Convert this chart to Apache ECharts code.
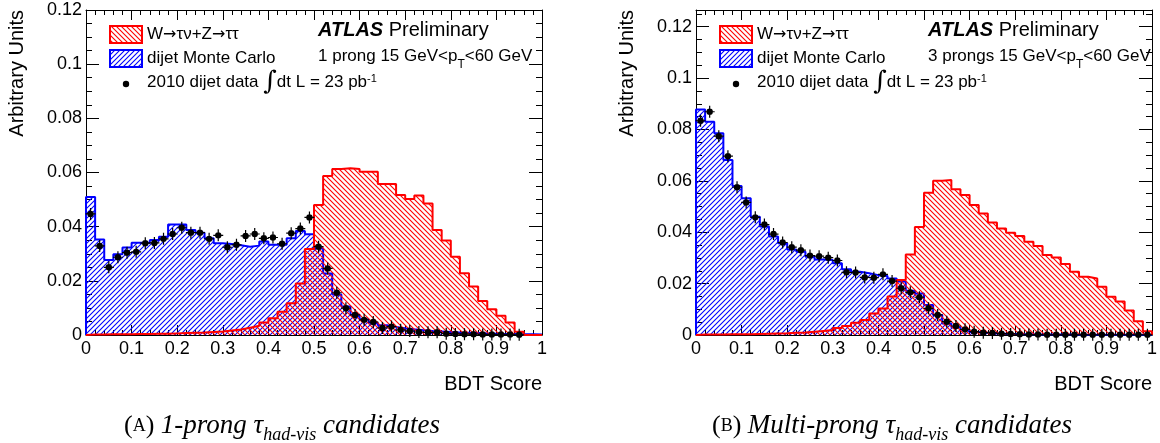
<!DOCTYPE html>
<html>
<head>
<meta charset="utf-8">
<script src="https://cdn.jsdelivr.net/npm/echarts@6/dist/echarts.min.js"></script>
<style>
  html, body { margin: 0; padding: 0; background: #fff; }
  #main { width: 1160px; height: 443px; }
</style>
</head>
<body>
<div id="main"></div>
<script>
// 50 bins of width 0.02 on the BDT score axis
const binWidth = 0.02
const xTicks = [0, 0.1, 0.2, 0.3, 0.4, 0.5, 0.6, 0.7, 0.8, 0.9, 1]
const yTicks = [0, 0.02, 0.04, 0.06, 0.08, 0.1, 0.12]

// 1-prong panel
const leftSignal = [
  0.0002, 0.0002, 0.0003, 0.0003, 0.0003, 0.0004, 0.0004, 0.0005, 0.0005, 0.0006,
  0.0007, 0.0008, 0.0009, 0.0011, 0.0013, 0.0017, 0.0020, 0.0027, 0.0034, 0.0046,
  0.0062, 0.0086, 0.0117, 0.0190, 0.0318, 0.0480, 0.0587, 0.0613, 0.0616, 0.0613,
  0.0603, 0.0603, 0.0558, 0.0558, 0.0517, 0.0502, 0.0515, 0.0486, 0.0388, 0.0349,
  0.0289, 0.0228, 0.0179, 0.0126, 0.0095, 0.0071, 0.0046, 0.0012, 0, 0
]
const leftDijetMC = [
  0.0510, 0.0353, 0.0277, 0.0298, 0.0323, 0.0341, 0.0341, 0.0351, 0.0363, 0.0408,
  0.0408, 0.0388, 0.0378, 0.0357, 0.0339, 0.0336, 0.0331, 0.0326, 0.0330, 0.0345,
  0.0333, 0.0333, 0.0357, 0.0384, 0.0372, 0.0320, 0.0227, 0.0150, 0.0105, 0.0075,
  0.0058, 0.0045, 0.0036, 0.0030, 0.0025, 0.0021, 0.0018, 0.0015, 0.0013, 0.0011,
  0.0009, 0.0008, 0.0007, 0.0006, 0.0005, 0.0004, 0.0004, 0.0003, 0.0003, 0.0002
]
const leftData = [
  0.0447, 0.0329, 0.0250, 0.0287, 0.0304, 0.0307, 0.0339, 0.0340, 0.0355, 0.0373,
  0.0396, 0.0378, 0.0378, 0.0355, 0.0368, 0.0324, 0.0333, 0.0366, 0.0373, 0.0357,
  0.0360, 0.0337, 0.0376, 0.0393, 0.0434, 0.0326, 0.0246, 0.0156, 0.0099, 0.0074,
  0.0056, 0.0048, 0.0026, 0.0031, 0.0019, 0.0015, 0.0011, 0.0010, 0.0010, 0.0005,
  0.0004, 0.0003, 0.0003, 0.0002, 0.0002, 0.0002, 0.0002, 0.0001, null, null
]

// multi-prong panel
const rightSignal = [
  0.0002, 0.0002, 0.0002, 0.0003, 0.0003, 0.0003, 0.0004, 0.0005, 0.0006, 0.0007,
  0.0009, 0.0010, 0.0013, 0.0016, 0.0019, 0.0027, 0.0035, 0.0048, 0.0058, 0.0084,
  0.0103, 0.0150, 0.0214, 0.0313, 0.0420, 0.0554, 0.0600, 0.0603, 0.0567, 0.0545,
  0.0506, 0.0473, 0.0438, 0.0415, 0.0398, 0.0385, 0.0363, 0.0346, 0.0311, 0.0302,
  0.0276, 0.0246, 0.0227, 0.0220, 0.0188, 0.0149, 0.0130, 0.0095, 0.0054, 0.0015
]
const rightDijetMC = [
  0.0878, 0.0830, 0.0785, 0.0681, 0.0580, 0.0532, 0.0460, 0.0422, 0.0383, 0.0357,
  0.0333, 0.0324, 0.0305, 0.0294, 0.0292, 0.0279, 0.0256, 0.0246, 0.0240, 0.0233,
  0.0230, 0.0220, 0.0208, 0.0172, 0.0162, 0.0117, 0.0078, 0.0045, 0.0030, 0.0020,
  0.0012, 0.0009, 0.0007, 0.0005, 0.0004, 0.0003, 0.0003, 0.0002, 0.0002, 0.0002,
  0.0002, 0.0001, 0.0001, 0.0001, 0.0001, 0.0001, 0.0001, 0.0001, 0.0001, 0.0001
]
const rightData = [
  0.0834, 0.0869, 0.0774, 0.0696, 0.0575, 0.0516, 0.0458, 0.0430, 0.0393, 0.0360,
  0.0342, 0.0330, 0.0309, 0.0307, 0.0301, 0.0290, 0.0244, 0.0243, 0.0224, 0.0223,
  0.0236, 0.0210, 0.0182, 0.0166, 0.0147, 0.0104, 0.0078, 0.0052, 0.0035, 0.0022,
  0.0013, 0.0009, 0.0008, 0.0005, 0.0004, 0.0003, 0.0002, 0.0002, 0.0001, 0.0001,
  0.0001, 0.0001, 0.0001, 0.0001, 0.0001, 0.0001, 0.0001, 0.0001, 0.0001, 0.0001
]

const yMax = [0.12, 0.1265]
const panelLabels = ['1 prong 15 GeV<p{sub|T}<60 GeV', '3 prongs 15 GeV<p{sub|T}<60 GeV']
const captions = [
  ['A', '1-prong'],
  ['B', 'Multi-prong']
]

const SANS = "'Liberation Sans', Arial, Helvetica, sans-serif"
const SERIF = "'Liberation Serif', 'Times New Roman', serif"
const RED = '#ff0000'
const BLUE = '#0000ff'

// ROOT style diagonal hatching
function hatch(color, rising) {
  const s = 5
  const c = document.createElement('canvas')
  c.width = s
  c.height = s
  const ctx = c.getContext('2d')
  ctx.strokeStyle = color
  ctx.lineWidth = 1.1
  ctx.beginPath()
  if (rising) {
    ctx.moveTo(0, s); ctx.lineTo(s, 0)
    ctx.moveTo(-1, 1); ctx.lineTo(1, -1)
    ctx.moveTo(s - 1, s + 1); ctx.lineTo(s + 1, s - 1)
  } else {
    ctx.moveTo(0, 0); ctx.lineTo(s, s)
    ctx.moveTo(-1, s - 1); ctx.lineTo(1, s + 1)
    ctx.moveTo(s - 1, -1); ctx.lineTo(s + 1, 1)
  }
  ctx.stroke()
  return { image: c, repetition: 'repeat' }
}
const redHatch = hatch(RED, false)
const blueHatch = hatch(BLUE, true)

// histogram outline: points at bin low edges, drawn with step 'end'
function histPoints(vals) {
  const pts = [[0, 0]]
  vals.forEach((v, i) => pts.push([+(i * binWidth).toFixed(2), v]))
  pts.push([1, vals[vals.length - 1]])
  pts.push([1, 0])
  return pts
}
function centerPoints(vals) {
  return vals.map((v, i) => [+(i * binWidth + binWidth / 2).toFixed(2), v]).filter(p => p[1] != null)
}

const marker = 'path://M4.4,0H5.6V12H4.4Z M0,5.4H10V6.6H0Z M1.8,6A3.2,3.2,0,1,1,8.2,6A3.2,3.2,0,1,1,1.8,6Z'

const grids = [
  { left: 86, top: 10, width: 456, height: 325 },
  { left: 696, top: 10, width: 456, height: 325 }
]

const xAxes = []
const yAxes = []
const series = []
const graphic = []

grids.forEach((g, i) => {
  const common = {
    gridIndex: i,
    type: 'value',
    axisLine: { show: true, onZero: false, lineStyle: { color: '#000', width: 1 } },
    splitLine: { show: false }
  }
  xAxes.push(Object.assign({}, common, {
    position: 'bottom', min: xTicks[0], max: xTicks[xTicks.length - 1], interval: 0.1,
    axisTick: { inside: true, length: 10, lineStyle: { color: '#000' } },
    minorTick: { show: true, splitNumber: 5, length: 5, lineStyle: { color: '#000' } },
    axisLabel: { fontFamily: SANS, fontSize: 18, color: '#000', margin: 5 }
  }))
  xAxes.push(Object.assign({}, common, {
    position: 'top', min: xTicks[0], max: xTicks[xTicks.length - 1], interval: 0.1,
    axisTick: { inside: true, length: 10, lineStyle: { color: '#000' } },
    minorTick: { show: true, splitNumber: 5, length: 5, lineStyle: { color: '#000' } },
    axisLabel: { show: false }
  }))
  const yLabel = v => {
    const k = v / 0.02
    if (Math.abs(k - Math.round(k)) > 1e-6) return ''
    return String(+v.toFixed(2))
  }
  yAxes.push(Object.assign({}, common, {
    position: 'left', min: yTicks[0], max: yMax[i], interval: 0.02,
    axisTick: { inside: true, length: 13, lineStyle: { color: '#000' } },
    minorTick: { show: true, splitNumber: 4, length: 6, lineStyle: { color: '#000' } },
    axisLabel: { fontFamily: SANS, fontSize: 18, color: '#000', margin: 4, formatter: yLabel }
  }))
  yAxes.push(Object.assign({}, common, {
    position: 'right', min: yTicks[0], max: yMax[i], interval: 0.02,
    axisTick: { inside: true, length: 13, lineStyle: { color: '#000' } },
    minorTick: { show: true, splitNumber: 4, length: 6, lineStyle: { color: '#000' } },
    axisLabel: { show: false }
  }))
})

const panels = [
  { sig: leftSignal, bkg: leftDijetMC, data: leftData },
  { sig: rightSignal, bkg: rightDijetMC, data: rightData }
]
panels.forEach((p, i) => {
  const ax = { xAxisIndex: i * 2, yAxisIndex: i * 2 }
  series.push(Object.assign({
    name: 'dijet Monte Carlo', type: 'line', step: 'end', symbol: 'none',
    data: histPoints(p.bkg), z: 2,
    lineStyle: { color: BLUE, width: 2 },
    areaStyle: { color: blueHatch, opacity: 1 }
  }, ax))
  series.push(Object.assign({
    name: 'W→τν+Z→ττ', type: 'line', step: 'end', symbol: 'none',
    data: histPoints(p.sig), z: 3,
    lineStyle: { color: RED, width: 2 },
    areaStyle: { color: redHatch, opacity: 1 }
  }, ax))
  series.push(Object.assign({
    name: '2010 dijet data', type: 'scatter', symbol: marker, symbolSize: [10, 12],
    data: centerPoints(p.data), z: 4,
    itemStyle: { color: '#000', opacity: 1 }
  }, ax))
})

// legends, labels and captions
grids.forEach((g, i) => {
  const lx = g.left + 24
  const tx = lx + 37
  graphic.push(
    { type: 'rect', shape: { x: lx, y: 26, width: 32, height: 17 },
      style: { fill: redHatch, stroke: RED, lineWidth: 2 } },
    { type: 'rect', shape: { x: lx, y: 50, width: 32, height: 17 },
      style: { fill: blueHatch, stroke: BLUE, lineWidth: 2 } },
    { type: 'circle', shape: { cx: lx + 16, cy: 84, r: 3.2 }, style: { fill: '#000' } },
    { type: 'text', x: tx, y: 34.5,
      style: {
        text: 'W{a|→}τν+Z{a|→}ττ', fontFamily: SANS, fontSize: 17, fill: '#000', verticalAlign: 'middle',
        rich: { a: { fontFamily: "'DejaVu Sans', sans-serif", fontSize: 16 } }
      } },
    { type: 'text', x: tx, y: 58.5,
      style: { text: 'dijet Monte Carlo', font: '17px ' + SANS, fill: '#000', verticalAlign: 'middle' } },
    { type: 'text', x: tx, y: 82,
      style: {
        text: '2010 dijet data {int|∫}dt L = 23 pb{sup|-1}',
        fontFamily: SANS, fontSize: 17, fill: '#000', verticalAlign: 'middle', lineHeight: 24,
        rich: {
          int: { fontFamily: "'DejaVu Serif', serif", fontSize: 26, lineHeight: 24 },
          sup: { fontFamily: SANS, fontSize: 11, lineHeight: 11, verticalAlign: 'top', padding: [3, 0, 0, 0] }
        }
      } },
    { type: 'text', x: g.left + 232, y: 30,
      style: {
        text: '{b|ATLAS} Preliminary', fontFamily: SANS, fontSize: 20, fill: '#000', verticalAlign: 'middle',
        rich: { b: { fontFamily: SANS, fontSize: 20, fontWeight: 'bold', fontStyle: 'italic' } }
      } },
    { type: 'text', x: g.left + 232, y: 56,
      style: {
        text: panelLabels[i], fontFamily: SANS, fontSize: 17, fill: '#000', verticalAlign: 'middle', lineHeight: 22,
        rich: { sub: { fontFamily: SANS, fontSize: 12, lineHeight: 12, verticalAlign: 'bottom', padding: [0, 0, -4, 0] } }
      } },
    { type: 'text', x: g.left + g.width, y: 384,
      style: { text: 'BDT Score', font: '20px ' + SANS, fill: '#000', align: 'right', verticalAlign: 'middle' } },
    { type: 'text', x: g.left - 69, y: 10, rotation: Math.PI / 2,
      style: { text: 'Arbitrary Units', font: '20px ' + SANS, fill: '#000', align: 'right', verticalAlign: 'middle' } },
    { type: 'text', x: i === 0 ? 124 : 712, y: 426,
      style: {
        text: '{n|(}{sc|' + captions[i][0] + '}{n|)} {it|' + captions[i][1] + ' τ}{sub|had-vis}{it| candidates}',
        fontFamily: SERIF, fontSize: 26, fill: '#000', verticalAlign: 'middle', lineHeight: 32,
        rich: {
          n: { fontFamily: SERIF, fontSize: 26, lineHeight: 32 },
          sc: { fontFamily: SERIF, fontSize: 18, lineHeight: 32 },
          it: { fontFamily: SERIF, fontSize: 27, fontStyle: 'italic', lineHeight: 32 },
          sub: { fontFamily: SERIF, fontSize: 18, fontStyle: 'italic', lineHeight: 18, verticalAlign: 'bottom', padding: [0, 0, -2, 0] }
        }
      } }
  )
})

const chart = echarts.init(document.getElementById('main'), null, { renderer: 'canvas' })
chart.setOption({
  animation: false,
  backgroundColor: '#fff',
  grid: grids,
  xAxis: xAxes,
  yAxis: yAxes,
  series: series,
  graphic: graphic
})
</script>
</body>
</html>
